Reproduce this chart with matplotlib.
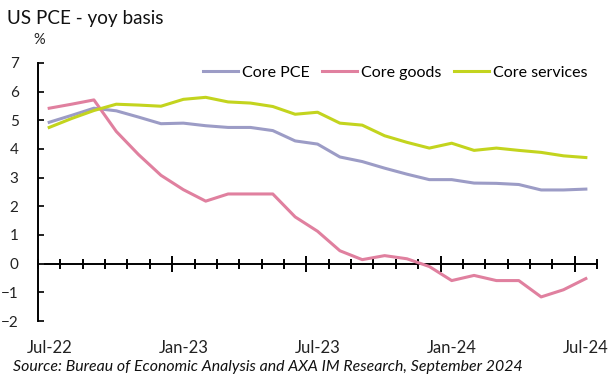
import matplotlib.pyplot as plt
import numpy as np

plt.rcParams['font.family'] = ['Lato', 'DejaVu Sans']

# Monthly data, Jul-22 .. Jul-24
months = ['Jul-22', 'Aug-22', 'Sep-22', 'Oct-22', 'Nov-22', 'Dec-22',
          'Jan-23', 'Feb-23', 'Mar-23', 'Apr-23', 'May-23', 'Jun-23',
          'Jul-23', 'Aug-23', 'Sep-23', 'Oct-23', 'Nov-23', 'Dec-23',
          'Jan-24', 'Feb-24', 'Mar-24', 'Apr-24', 'May-24', 'Jun-24', 'Jul-24']
core_pce = [4.93, 5.17, 5.42, 5.33, 5.11, 4.88, 4.90, 4.81, 4.75, 4.75, 4.64, 4.28,
            4.17, 3.72, 3.56, 3.33, 3.12, 2.93, 2.93, 2.81, 2.80, 2.76, 2.57, 2.57, 2.60]
core_goods = [5.42, 5.56, 5.71, 4.61, 3.80, 3.08, 2.58, 2.18, 2.43, 2.43, 2.43, 1.63,
              1.13, 0.45, 0.14, 0.28, 0.17, -0.10, -0.59, -0.41, -0.59, -0.59, -1.16, -0.91, -0.52]
core_services = [4.75, 5.06, 5.34, 5.56, 5.53, 5.49, 5.73, 5.80, 5.64, 5.60, 5.48, 5.21,
                 5.28, 4.90, 4.83, 4.46, 4.23, 4.03, 4.20, 3.95, 4.03, 3.95, 3.88, 3.76, 3.70]

x = np.arange(len(months))

fig = plt.figure(figsize=(6.15, 3.79), dpi=100)
ax = fig.add_axes([0.0618, 0.153, 0.909, 0.681])

ax.plot(x, core_pce, color='#9C9CC6', lw=2.2, label='Core PCE')
ax.plot(x, core_goods, color='#E0809F', lw=2.2, label='Core goods')
ax.plot(x, core_services, color='#C3D41E', lw=2.2, label='Core services')

ax.set_xlim(-0.5, len(months) - 0.5)
ax.set_ylim(-2, 7)
ax.set_yticks(range(-2, 8))
ax.tick_params(axis='y', direction='in', length=4, width=1.4, pad=14,
               labelsize=11, colors='#222222')

for s in ['top', 'right', 'bottom']:
    ax.spines[s].set_visible(False)
ax.spines['left'].set_linewidth(1.4)

# month labels every 6 months along the bottom, no marks there
ax.set_xticks(x[::6])
ax.set_xticklabels(months[::6])
ax.tick_params(axis='x', length=0, pad=14, labelsize=12, colors='#222222')

# zero line with category tick marks
sec = ax.secondary_xaxis(2 / 9)
sec.spines['bottom'].set_linewidth(1.4)
sec.set_xticks(np.arange(5.5, len(months), 6))
sec.set_xticks(np.arange(-0.5, len(months), 1), minor=True)
sec.tick_params(which='major', direction='inout', length=11, width=1.4, labelbottom=False)
sec.tick_params(which='minor', direction='inout', length=7, width=1.4)

ax.legend(loc='upper left', bbox_to_anchor=(0.27, 1.045), ncol=3, frameon=False,
          fontsize=11.5, handlelength=2.2, handletextpad=0.25, columnspacing=0.75)

fig.text(0.011, 0.95, 'US PCE - yoy basis', fontsize=13.6, va='center', color='#111111')
fig.text(0.063, 0.894, '%', fontsize=10.5, va='center', ha='center', color='#222222')
fig.text(0.021, 0.032, 'Source: Bureau of Economic Analysis and AXA IM Research, September 2024',
         fontsize=11.4, style='italic', va='center', color='#111111')

fig.savefig('out.png', dpi=100)
